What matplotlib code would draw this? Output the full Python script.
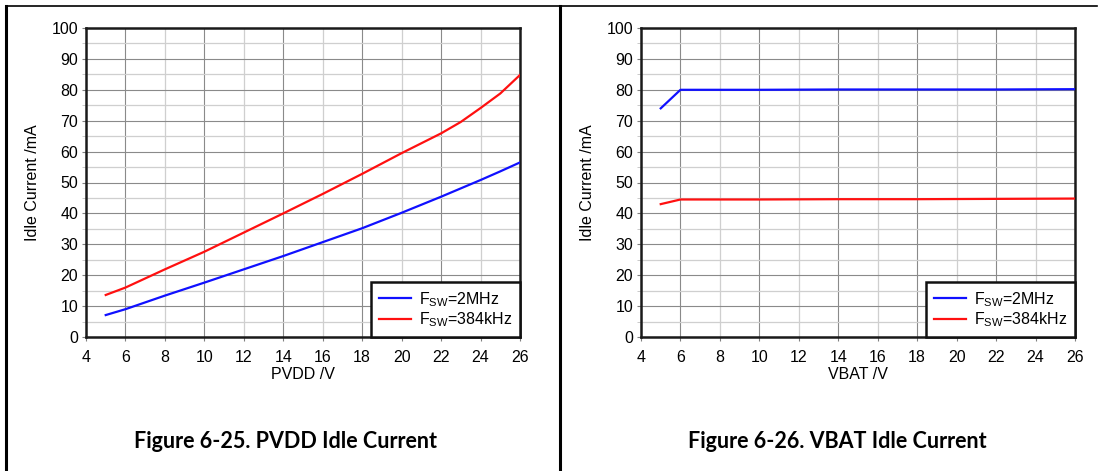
import matplotlib
matplotlib.use("Agg")
import matplotlib.pyplot as plt
from matplotlib.lines import Line2D

plt.rcParams['font.family'] = ['Liberation Sans', 'DejaVu Sans']
plt.rcParams['mathtext.fontset'] = 'custom'
plt.rcParams['mathtext.rm'] = 'Liberation Sans'
plt.rcParams['mathtext.it'] = 'Liberation Sans'

# ---- data ----
pvdd_v = [5, 6, 8, 10, 12, 14, 16, 18, 20, 22, 23, 24, 25, 26]
pvdd_2mhz = [7.1, 9.0, 13.4, 17.6, 21.9, 26.2, 30.7, 35.2, 40.2, 45.4, 48.1, 50.8, 53.6, 56.5]
pvdd_384k = [13.6, 16.0, 21.9, 27.6, 33.8, 40.0, 46.3, 52.8, 59.5, 65.9, 69.6, 74.1, 78.8, 84.8]

vbat_v = [5, 6, 10, 14, 18, 22, 26]
vbat_2mhz = [74.0, 80.0, 80.0, 80.1, 80.1, 80.1, 80.2]
vbat_384k = [43.0, 44.5, 44.5, 44.6, 44.6, 44.7, 44.8]

labels = ['F$_{\\mathrm{SW}}$=2MHz', 'F$_{\\mathrm{SW}}$=384kHz']
xlabels = ['PVDD /V', 'VBAT /V']
ylabel = 'Idle Current /mA'
titles = ['Figure 6-25. PVDD Idle Current', 'Figure 6-26. VBAT Idle Current']
xticks = list(range(4, 27, 2))
yticks = list(range(0, 101, 10))

W, H = 1105, 471
fig = plt.figure(figsize=(W / 100, H / 100), dpi=100)

def px_rect(x0, y0, x1, y1):
    return [x0 / W, 1 - y1 / H, (x1 - x0) / W, (y1 - y0) / H]

axes_rects = [px_rect(86, 28, 520, 337), px_rect(641, 28, 1075, 337)]
datasets = [(pvdd_v, pvdd_2mhz, pvdd_384k), (vbat_v, vbat_2mhz, vbat_384k)]
title_x = [285, 837]

for i, ax_rect in enumerate(axes_rects):
    ax = fig.add_axes(ax_rect)
    xv, b, r = datasets[i]
    ax.plot(xv, b, color='#1010ff', lw=1.6, label=labels[0], zorder=3)
    ax.plot(xv, r, color='#ff1010', lw=1.6, label=labels[1], zorder=3)
    ax.set_xlim(4, 26)
    ax.set_ylim(0, 100)
    ax.set_xticks(xticks)
    ax.set_yticks(yticks)
    ax.set_yticks(list(range(5, 100, 10)), minor=True)
    ax.tick_params(axis='both', which='major', labelsize=11.5, length=3,
                   color='#808080', direction='out')
    ax.tick_params(axis='x', which='major', pad=6)
    ax.tick_params(axis='y', which='major', pad=2.5)
    ax.tick_params(axis='y', which='minor', length=3, color='#c0c0c0')
    ax.grid(True, which='major', color='#8a8a8a', lw=0.8)
    ax.grid(True, which='minor', axis='y', color='#cfcfcf', lw=0.9)
    for j, gl in enumerate(ax.xaxis.get_gridlines()):
        gl.set_color('#8a8a8a' if j % 2 == 1 else '#cfcfcf')
        gl.set_linewidth(0.8 if j % 2 == 1 else 0.9)
    ax.set_axisbelow(True)
    for sp in ax.spines.values():
        sp.set_linewidth(1.8)
        sp.set_color('#1a1a1a')
    ax.set_xlabel(xlabels[i], fontsize=11.5)
    ax.set_ylabel(ylabel, fontsize=11.5)
    ax.xaxis.set_label_coords(0.5, -0.098)
    ax.yaxis.set_label_coords(-0.106, 0.5)
    leg = ax.legend(loc='lower right', fontsize=11.5, frameon=True, fancybox=False,
                    borderaxespad=0, handlelength=2.0, handletextpad=0.5,
                    borderpad=0.5, labelspacing=0.1, framealpha=1)
    leg.get_frame().set_edgecolor('#111111')
    leg.get_frame().set_linewidth(1.8)
    fig.text(title_x[i] / W, 1 - 442 / H, titles[i], ha='center', va='center',
             fontsize=15.5, fontweight='bold', family=['Lato', 'DejaVu Sans'])

# table borders
fig.add_artist(Line2D([6 / W, 1097 / W], [1 - 6 / H, 1 - 6 / H], color='black', lw=1.2))
fig.add_artist(Line2D([6 / W, 6 / W], [0, 1 - 6 / H], color='black', lw=2.2))
fig.add_artist(Line2D([560 / W, 560 / W], [0, 1 - 6 / H], color='black', lw=2.2))

fig.savefig('out.png', dpi=100)
